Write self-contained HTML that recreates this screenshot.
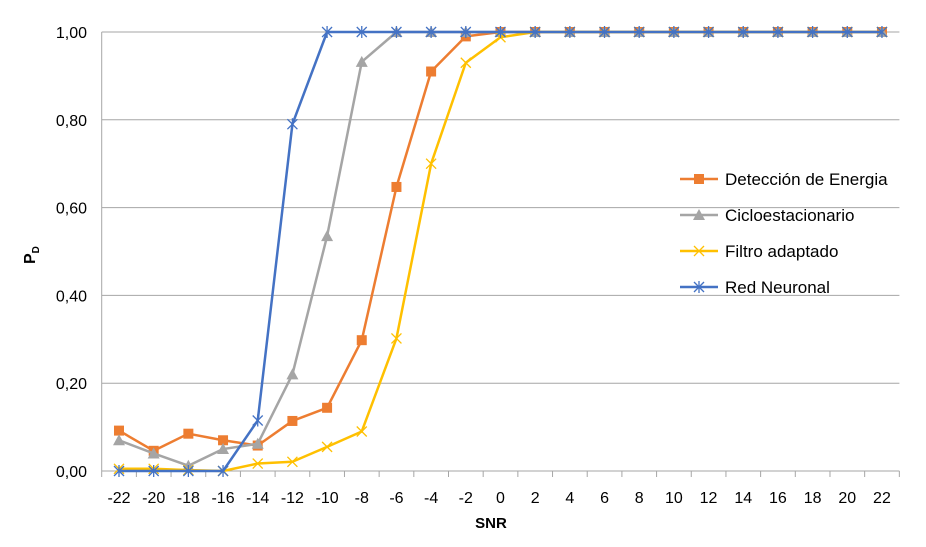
<!DOCTYPE html>
<html><head><meta charset="utf-8"><style>body{margin:0;background:#fff}svg{display:block}text{font-family:"Liberation Sans",sans-serif;fill:#000}</style></head>
<body><svg id="s" width="926" height="547" xmlns="http://www.w3.org/2000/svg"></svg>
<script>
const s=document.getElementById('s');let h='';
const X=i=>119+i*34.68, Y=v=>471-v*439;
for(let k=1;k<=5;k++){h+=`<line x1="101.7" x2="899.4" y1="${Y(k*0.2)}" y2="${Y(k*0.2)}" stroke="#a6a6a6" stroke-width="1"/>`;}
h+=`<line x1="101.7" x2="899.4" y1="471" y2="471" stroke="#a6a6a6"/><line x1="101.7" x2="101.7" y1="32" y2="471" stroke="#a6a6a6"/>`;
for(let k=0;k<=23;k++){const x=101.7+k*34.68;h+=`<line x1="${x}" x2="${x}" y1="471" y2="477" stroke="#a6a6a6"/>`;}
for(let k=0;k<=5;k++){h+=`<text x="87" y="${Y(k*0.2)+6}" font-size="16" text-anchor="end">${(k*0.2).toFixed(2).replace('.',',')}</text>`;}
for(let i=0;i<23;i++){h+=`<text x="${X(i)}" y="503" font-size="16" text-anchor="middle">${-22+2*i}</text>`;}
h+=`<text x="491" y="528" font-size="15" font-weight="bold" text-anchor="middle">SNR</text>`;
h+=`<text transform="translate(35,264) rotate(-90)" font-size="16" font-weight="bold">P<tspan font-size="10" dy="4">D</tspan></text>`;
const pad=a=>{while(a.length<23)a.push(1);return a};
const S=[
['#ed7d31','sq',pad([0.092,0.046,0.085,0.07,0.058,0.114,0.144,0.298,0.647,0.91,0.99,1])],
['#a5a5a5','tri',pad([0.07,0.04,0.012,0.05,0.062,0.22,0.535,0.932,1])],
['#ffc000','x',pad([0.005,0.005,0.002,0,0.017,0.021,0.055,0.09,0.302,0.70,0.93,0.988,1])],
['#4472c4','star',pad([0,0,0,0,0.115,0.79,1])]];
function mk(t,c,x,y){
 if(t=='sq')return `<rect x="${x-5}" y="${y-5}" width="10" height="10" fill="${c}"/>`;
 if(t=='tri')return `<polygon points="${x},${y-6} ${x+6},${y+5} ${x-6},${y+5}" fill="${c}"/>`;
 let r=`<line x1="${x-5}" y1="${y-5}" x2="${x+5}" y2="${y+5}" stroke="${c}" stroke-width="1.3"/><line x1="${x-5}" y1="${y+5}" x2="${x+5}" y2="${y-5}" stroke="${c}" stroke-width="1.3"/>`;
 if(t=='star')r+=`<line x1="${x}" y1="${y-6}" x2="${x}" y2="${y+6}" stroke="${c}" stroke-width="1.3"/>`;
 return r;}
for(const [c,t,d] of S){h+=`<polyline fill="none" stroke="${c}" stroke-width="2.5" stroke-linejoin="round" points="${d.map((v,i)=>X(i)+','+Y(v)).join(' ')}"/>`;
 d.forEach((v,i)=>h+=mk(t,c,X(i),Y(v)));}
const L=['Detección de Energia','Cicloestacionario','Filtro adaptado','Red Neuronal'];
S.forEach(([c,t],k)=>{const y=179+36*k;h+=`<line x1="680" x2="718" y1="${y}" y2="${y}" stroke="${c}" stroke-width="2.5"/>`+mk(t,c,699,y)+`<text x="725" y="${y+6}" font-size="17">${L[k]}</text>`;});
s.innerHTML=h;
</script></body></html>
